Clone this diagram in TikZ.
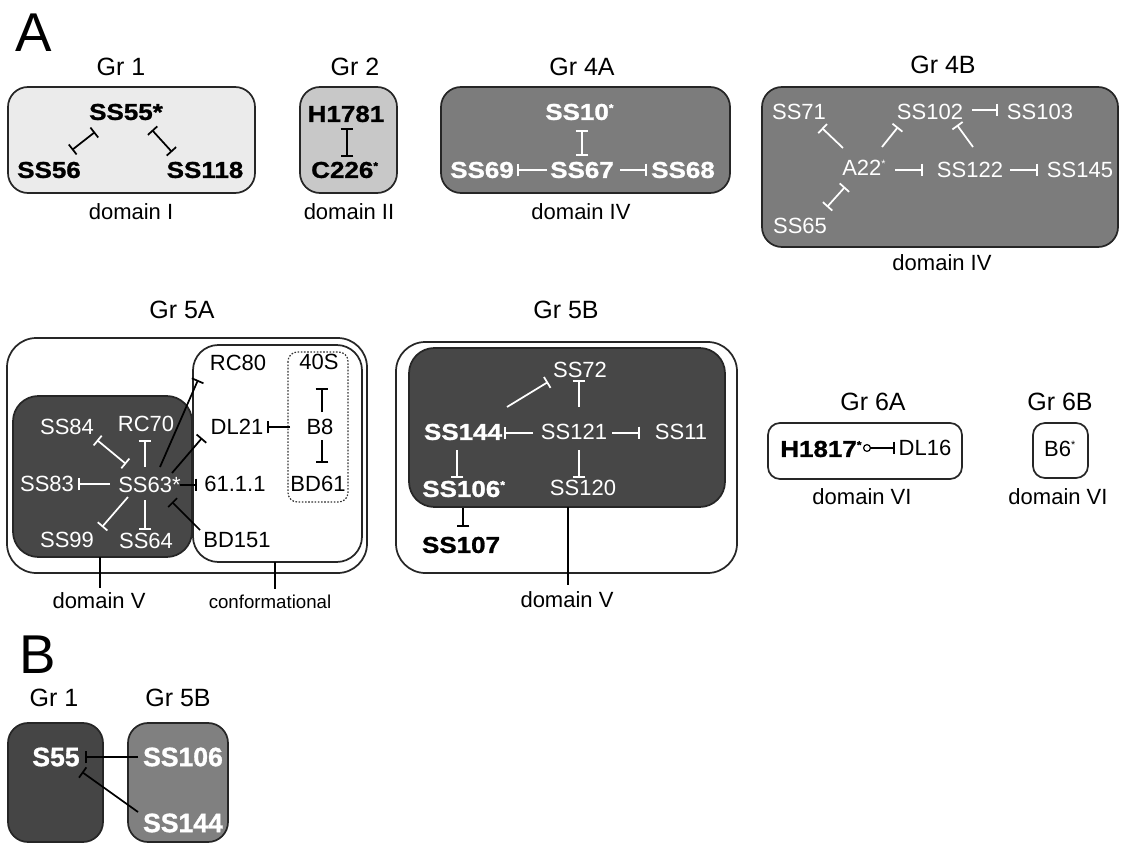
\documentclass[tikz,border=0pt]{standalone}
\usepackage{fontspec}
\setmainfont{Liberation Sans}[BoldFeatures={FakeStretch=1.13,FakeBold=1.2}]
\newfontfamily\plainfont{Liberation Sans}[BoldFeatures={FakeBold=1.2}]
\usetikzlibrary{arrows.meta,calc}
\newcommand\supst{\textsuperscript{\fontsize{8}{8}\selectfont *}}
\definecolor{gone}{HTML}{EBEBEB}
\definecolor{gtwo}{HTML}{C8C8C8}
\definecolor{gfour}{HTML}{7C7C7C}
\definecolor{gfive}{HTML}{474747}
\definecolor{bone}{HTML}{454545}
\definecolor{btwo}{HTML}{808080}
\begin{document}
\begin{tikzpicture}[x=0.75pt,y=-0.75pt,
  lab/.style={inner sep=0pt, font=\fontsize{16.5}{18}\selectfont},
  blab/.style={inner sep=0pt, font=\fontsize{17.25}{19}\selectfont\bfseries},
  pblab/.style={inner sep=0pt, font=\plainfont\fontsize{19.9}{21}\selectfont\bfseries, text=white},
  grl/.style={inner sep=0pt, font=\fontsize{18.75}{20}\selectfont},
  conl/.style={inner sep=0pt, font=\fontsize{14}{15}\selectfont},
  big/.style={inner sep=0pt, font=\fontsize{41}{42}\selectfont},
  wt/.style={text=white},
  box/.style={draw=black!85, line width=1.3pt, rounded corners=15pt},
  con/.style={line width=1.3pt},
  tb/.style={con,-{Bar[width=9.5pt]}},
  bb/.style={con,{Bar[width=9.5pt]}-{Bar[width=9.5pt]}},
]
\useasboundingbox (0,0) rectangle (1122,845);

% panel letters
\node[big] (pA) at (34,33) {A};
\node[big] (pB) at (38,655) {B};

% ---------- Row 1 boxes ----------
\draw[box, fill=gone] (8,87) rectangle (255,193);
\draw[box, fill=gtwo] (300,87) rectangle (397,193);
\draw[box, fill=gfour] (441,87) rectangle (730,193);
\draw[box, fill=gfour] (762,87) rectangle (1118,247);

\node[grl] (g1) at (121,67) {Gr 1};
\node[grl] (g2) at (355,67) {Gr 2};
\node[grl] (g4a) at (582,67) {Gr 4A};
\node[grl] (g4b) at (943,65) {Gr 4B};
\node[lab] (d1) at (131,212) {domain I};
\node[lab] (d2) at (349,212) {domain II};
\node[lab] (d4a) at (581,212) {domain IV};
\node[lab] (d4b) at (942,263) {domain IV};

% Gr 1
\node[blab] (ss55) at (126,112) {SS55*};
\node[blab] (ss56) at (49,170) {SS56};
\node[blab] (ss118) at (205,170) {SS118};
\draw[bb] ($(ss55)+(-31,20)$) -- ($(ss56)+(23,-20)$);
\draw[bb] ($(ss55)+(26,18)$) -- ($(ss118)+(-33,-18)$);

% Gr 2
\node[blab] (h1781) at (346,114) {H1781};
\node[blab] (c226) at (345,170) {C226\supst};
\draw[bb] ($(h1781)+(1,14)$) -- ($(c226)+(2,-13)$);

% Gr 4A
\node[blab,wt,anchor=west] (ss10) at (545,112) {SS10\supst};
\node[blab,wt] (ss69) at (482,170) {SS69};
\node[blab,wt] (ss67) at (582,170) {SS67};
\node[blab,wt] (ss68) at (683,170) {SS68};
\draw[bb,white] ($(ss10.west)+(37,18)$) -- ($(ss67)+(0,-14)$);
\draw[tb,white] ($(ss67)+(-35,0)$) -- ($(ss69)+(35,0)$);
\draw[tb,white] ($(ss67)+(38,0)$) -- ($(ss68)+(-36,0)$);

% Gr 4B
\node[lab,wt] (ss71) at (799,112) {SS71};
\node[lab,wt] (ss102) at (930,112) {SS102};
\node[lab,wt] (ss103) at (1040,112) {SS103};
\node[lab,wt,anchor=west] (a22) at (842,168) {A22\supst};
\node[lab,wt] (ss122) at (970,170) {SS122};
\node[lab,wt] (ss145) at (1080,170) {SS145};
\node[lab,wt] (ss65) at (800,226) {SS65};
\draw[tb,white] ($(a22.west)+(1,-20)$) -- ($(ss71)+(23,16)$);
\draw[tb,white] ($(a22.west)+(40,-21)$) -- ($(ss102)+(-32,15)$);
\draw[tb,white] ($(ss122)+(3,-23)$) -- ($(ss102)+(27,13)$);
\draw[tb,white] ($(ss102)+(42,-2)$) -- ($(ss103)+(-42,-2)$);
\draw[tb,white] ($(a22.west)+(53,2)$) -- ($(ss122)+(-47,0)$);
\draw[tb,white] ($(ss122)+(40,0)$) -- ($(ss145)+(-42,0)$);
\draw[bb,white] ($(a22.west)+(3,19)$) -- ($(ss65)+(27,-19)$);

% ---------- Gr 5A ----------
\draw[box, fill=white, rounded corners=22pt] (7,338) rectangle (367,573);
\draw[box, fill=gfive, rounded corners=19pt] (13,396) rectangle (192,557);
\draw[box, fill=white, rounded corners=19pt] (193,345) rectangle (362,562);
\draw[draw=black!80, line width=0.9pt, dash pattern=on 1.2pt off 1.2pt, rounded corners=7pt] (288,352) rectangle (348,502);

\node[grl] (g5a) at (182,310) {Gr 5A};
\node[lab] (rc80) at (238,363) {RC80};
\node[lab] (s40) at (319,362) {40S};
\node[lab] (dl21) at (237,427) {DL21};
\node[lab] (b8) at (320,427) {B8};
\node[lab] (bd61) at (318,484) {BD61};
\node[lab] (s611) at (235,484) {61.1.1};
\node[lab] (bd151) at (237,540) {BD151};
\node[lab,wt] (ss84) at (67,427) {SS84};
\node[lab,wt] (rc70) at (146,424) {RC70};
\node[lab,wt] (ss83) at (47,484) {SS83};
\node[lab,wt,anchor=west] (ss63) at (118,485) {SS63*};
\node[lab,wt] (ss99) at (67,540) {SS99};
\node[lab,wt] (ss64) at (146,541) {SS64};

\draw[bb,white] ($(ss84)+(30,13)$) -- ($(ss63.west)+(8,-21)$);
\draw[tb,white] ($(ss63.west)+(27,-18)$) -- ($(rc70)+(-1,16)$);
\draw[tb,white] ($(ss63.west)+(-8,-1)$) -- ($(ss83)+(31,0)$);
\draw[tb,white] ($(ss63.west)+(10,12)$) -- ($(ss99)+(35,-13)$);
\draw[tb,white] ($(ss63.west)+(27,15)$) -- ($(ss64)+(-1,-11)$);
\draw[tb] ($(ss63.west)+(42,-18)$) -- ($(rc80)+(-40,17)$);
\draw[tb] ($(ss63.west)+(54,-12)$) -- ($(dl21)+(-35,11)$);
\draw[tb] ($(ss63.west)+(62,0)$) -- ($(s611)+(-38,1)$);
\draw[tb] ($(bd151)+(-37,-10)$) -- ($(ss63.west)+(54,17)$);
\draw[tb] ($(b8)+(-30,0)$) -- ($(dl21)+(30,0)$);
\draw[tb] ($(b8)+(2,-15)$) -- ($(s40)+(3,26)$);
\draw[tb] ($(b8)+(2,13)$) -- ($(bd61)+(4,-21)$);

\coordinate (d5abot) at (100,557);
\coordinate (confbot) at (275,562);
\node[lab] (d5a) at (99,601) {domain V};
\node[conl] (confl) at (270,602) {conformational};
\draw[con] (d5abot) -- ($(d5a.north)+(1,-5)$);
\draw[con] (confbot) -- ($(confl.north)+(5,-6)$);

% ---------- Gr 5B ----------
\draw[box, fill=white, rounded corners=22pt] (396,342) rectangle (737,573);
\draw[box, fill=gfive, rounded corners=19pt] (409,348) rectangle (725,507);
\node[grl] (g5b) at (566,310) {Gr 5B};
\node[lab,wt] (ss72) at (580,370) {SS72};
\node[blab,wt] (ss144) at (463,432) {SS144};
\node[lab,wt] (ss121) at (574,432) {SS121};
\node[lab,wt] (ss11) at (681,432) {SS11};
\node[lab,wt] (ss120) at (583,488) {SS120};
\node[blab,wt,anchor=west] (ss106) at (422,489) {SS106\supst};
\node[blab] (ss107) at (461,545) {SS107};

\draw[tb,white] ($(ss144)+(44,-25)$) -- ($(ss72)+(-32,12)$);
\draw[tb,white] ($(ss121)+(5,-25)$) -- ($(ss72)+(-1,10)$);
\draw[tb,white] ($(ss121)+(-41,1)$) -- ($(ss144)+(41,1)$);
\draw[tb,white] ($(ss121)+(38,1)$) -- ($(ss11)+(-41,1)$);
\draw[tb,white] ($(ss121)+(5,18)$) -- ($(ss120)+(-4,-10)$);
\draw[tb,white] ($(ss144)+(-6,18)$) -- ($(ss106.west)+(35,-11)$);
\draw[tb] ($(ss106.west)+(41,19)$) -- ($(ss107)+(2,-18)$);

\coordinate (d5bbot) at (568,507);
\node[lab] (d5b) at (567,600) {domain V};
\draw[con] (d5bbot) -- ($(d5b.north)+(1,-7)$);

% ---------- Gr 6A / 6B ----------
\draw[box, rounded corners=9pt] (768,423) rectangle (962,479);
\draw[box, rounded corners=9pt] (1033,423) rectangle (1088,478);
\node[grl] (g6a) at (873,402) {Gr 6A};
\node[grl] (g6b) at (1060,402) {Gr 6B};
\node[blab,anchor=west] (h1817) at (780,449) {H1817\supst};
\node[lab] (dl16) at (925,448) {DL16};
\draw[con,{Circle[open,length=6pt,width=6pt,line width=0.9pt]}-{Bar[width=9.5pt]}] ($(h1817.west)+(83,-1)$) -- ($(dl16)+(-30,0)$);
\node[lab] (b6) at (1060,449) {B6\supst};
\node[lab] (d6a) at (862,497) {domain VI};
\node[lab] (d6b) at (1058,497) {domain VI};

% ---------- Panel B ----------
\draw[box, fill=bone] (8,723) rectangle (103,842);
\draw[box, fill=btwo] (128,723) rectangle (228,842);
\node[grl] (bg1) at (54,698) {Gr 1};
\node[grl] (bg5b) at (178,698) {Gr 5B};
\node[pblab] (s55) at (56,757) {S55};
\node[pblab] (ss106b) at (183,757) {SS106};
\node[pblab] (ss144b) at (183,823) {SS144};
\draw[tb] ($(ss106b)+(-45,0)$) -- ($(s55)+(29,0)$);
\draw[tb] ($(ss144b)+(-45,-11)$) -- ($(s55)+(26,15)$);
\end{tikzpicture}
\end{document}
